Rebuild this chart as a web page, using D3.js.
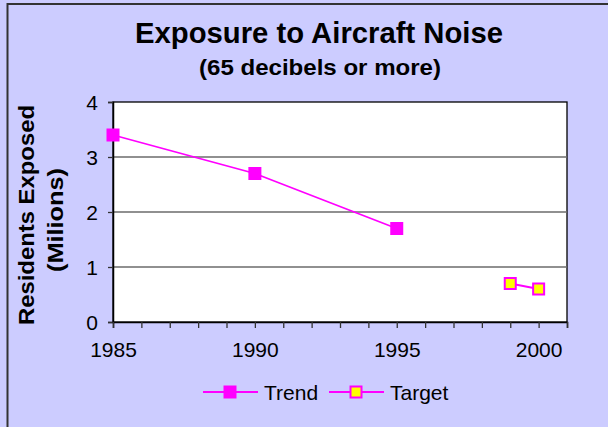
<!DOCTYPE html>
<html>
<head>
<meta charset="utf-8">
<script src="https://cdn.jsdelivr.net/npm/d3@7"></script>
<style>
  html, body { margin: 0; padding: 0; background: #CCCCFF; }
  svg { display: block; font-family: "Liberation Sans", Arial, sans-serif; }
</style>
</head>
<body>
<svg id="chart" width="608" height="427"></svg>
<script>
// ---- data ----
const trendYears = [1985, 1990, 1995];
const trendValues = [3.4, 2.7, 1.7];
const targetYears = [1999, 2000];
const targetValues = [0.7, 0.6];
const xTickLabels = [1985, 1990, 1995, 2000];
const yTickValues = [0, 1, 2, 3, 4];
const title = "Exposure to Aircraft Noise";
const subtitle = "(65 decibels or more)";
const yTitle1 = "Residents Exposed";
const yTitle2 = "(Milions)";
const legendLabels = ["Trend", "Target"];

// ---- layout ----
const svg = d3.select("#chart");
const W = 608, H = 427;
const plot = { left: 113, right: 567, top: 102, bottom: 322 };
const magenta = "#FF00FF", yellow = "#FFFF00";

svg.append("rect").attr("x", 0).attr("y", 0).attr("width", W).attr("height", H).attr("fill", "#CCCCFF");
svg.append("rect").attr("x", 7.5).attr("y", 4).attr("width", 720).attr("height", 520)
  .attr("fill", "#CCCCFF").attr("stroke", "#333").attr("stroke-width", 2);

const x = d3.scaleLinear().domain([1985, 2001]).range([plot.left, plot.right]);
const y = d3.scaleLinear().domain([0, 4]).range([plot.bottom, plot.top]);

// plot area
svg.append("rect").attr("x", plot.left).attr("y", plot.top)
  .attr("width", plot.right - plot.left).attr("height", plot.bottom - plot.top)
  .attr("fill", "#fff").attr("stroke", "#000").attr("stroke-width", 1.3);

// gridlines
svg.append("g").selectAll("line").data(yTickValues.filter(v => v > 0 && v < 4)).join("line")
  .attr("x1", plot.left).attr("x2", plot.right)
  .attr("y1", d => y(d)).attr("y2", d => y(d))
  .attr("stroke", "#6b6b6b").attr("stroke-width", 1.3);

// y axis
const yAxis = svg.append("g").attr("transform", `translate(${plot.left},0)`)
  .call(d3.axisLeft(y).tickValues(yTickValues).tickFormat(d3.format("d")).tickSize(5).tickPadding(10));
yAxis.select(".domain").attr("stroke", "#000").attr("stroke-width", 1.5);
yAxis.selectAll(".tick line").attr("stroke", "#333").attr("stroke-width", 1.3);
yAxis.selectAll(".tick text").attr("font-size", 21).attr("fill", "#000")
  .attr("font-family", "'Liberation Sans', Arial, sans-serif").attr("dy", "0.36em");

// x axis
const allYears = d3.range(1985, 2002);
const xAxis = svg.append("g").attr("transform", `translate(0,${plot.bottom})`)
  .call(d3.axisBottom(x).tickValues(allYears)
    .tickFormat(d => xTickLabels.includes(d) ? String(d) : "").tickSize(6).tickPadding(14));
xAxis.select(".domain").attr("stroke", "#000").attr("stroke-width", 1.5);
xAxis.selectAll(".tick line").attr("stroke", "#333").attr("stroke-width", 1.3);
xAxis.selectAll(".tick text").attr("font-size", 21).attr("fill", "#000")
  .attr("font-family", "'Liberation Sans', Arial, sans-serif");

// series
const trend = trendYears.map((yr, i) => ({ x: yr, v: trendValues[i] }));
const target = targetYears.map((yr, i) => ({ x: yr, v: targetValues[i] }));
const line = d3.line().x(d => x(d.x)).y(d => y(d.v));

svg.append("path").datum(trend).attr("d", line).attr("fill", "none")
  .attr("stroke", magenta).attr("stroke-width", 1.8);
svg.append("g").selectAll("rect").data(trend).join("rect")
  .attr("x", d => x(d.x) - 6.5).attr("y", d => y(d.v) - 6.5)
  .attr("width", 13).attr("height", 13).attr("fill", magenta);

svg.append("path").datum(target).attr("d", line).attr("fill", "none")
  .attr("stroke", magenta).attr("stroke-width", 1.8);
svg.append("g").selectAll("rect").data(target).join("rect")
  .attr("x", d => x(d.x) - 5.5).attr("y", d => y(d.v) - 5.5)
  .attr("width", 11).attr("height", 11).attr("fill", yellow)
  .attr("stroke", magenta).attr("stroke-width", 2);

// titles
svg.append("text").attr("x", 319).attr("y", 43).attr("text-anchor", "middle")
  .attr("font-size", 29).attr("font-weight", "bold").attr("textLength", 368)
  .attr("lengthAdjust", "spacingAndGlyphs").text(title);
svg.append("text").attr("x", 320).attr("y", 75).attr("text-anchor", "middle")
  .attr("font-size", 22).attr("font-weight", "bold").attr("textLength", 242)
  .attr("lengthAdjust", "spacingAndGlyphs").text(subtitle);

svg.append("text").attr("transform", "translate(34,215) rotate(-90)").attr("text-anchor", "middle")
  .attr("font-size", 22).attr("font-weight", "bold").attr("textLength", 220)
  .attr("lengthAdjust", "spacingAndGlyphs").text(yTitle1);
svg.append("text").attr("transform", "translate(63,220) rotate(-90)").attr("text-anchor", "middle")
  .attr("font-size", 22).attr("font-weight", "bold").attr("textLength", 104)
  .attr("lengthAdjust", "spacingAndGlyphs").text(yTitle2);

// legend
const legendY = 392;
const legendItems = [
  { label: legendLabels[0], x0: 203, fill: magenta, size: 13, stroke: "none" },
  { label: legendLabels[1], x0: 329, fill: yellow, size: 11, stroke: magenta }
];
const lg = svg.append("g").selectAll("g").data(legendItems).join("g")
  .attr("transform", d => `translate(${d.x0},${legendY})`);
lg.append("line").attr("x1", 0).attr("x2", 55).attr("y1", 0).attr("y2", 0)
  .attr("stroke", magenta).attr("stroke-width", 1.8);
lg.append("rect").attr("x", d => 27 - d.size / 2).attr("y", d => -d.size / 2)
  .attr("width", d => d.size).attr("height", d => d.size)
  .attr("fill", d => d.fill).attr("stroke", d => d.stroke).attr("stroke-width", 2);
lg.append("text").attr("x", 61).attr("y", 7.5).attr("font-size", 21).text(d => d.label);
</script>
</body>
</html>
